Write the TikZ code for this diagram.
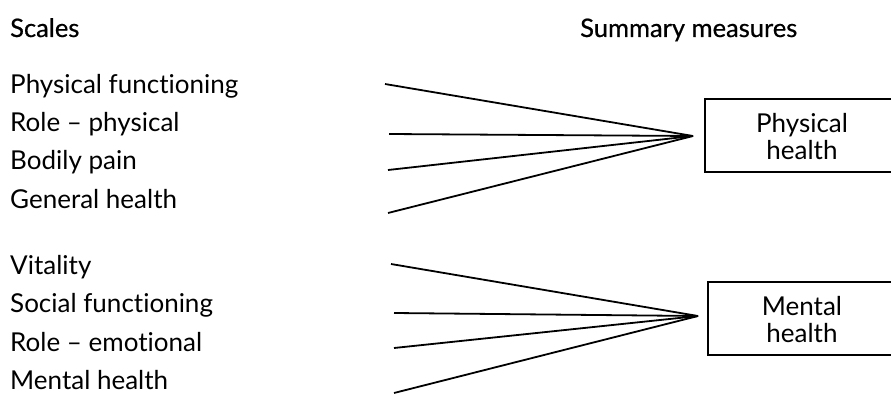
\documentclass[tikz,border=0pt]{standalone}
\usepackage{fontspec}
\setmainfont{Lato}[Ligatures={NoCommon,NoRare}]
\newfontfamily\headfont{Lato}[FakeBold=0.6]
\tikzset{
  scale label/.style={anchor=base west, inner sep=0pt, font=\fontsize{26}{28}\selectfont},
  head label/.style={anchor=base west, inner sep=0pt, font=\headfont\fontsize{25.5}{28}\selectfont},
  measure text/.style={inner sep=0pt, align=center, font=\fontsize{26}{27}\selectfont},
  measure box/.style={line width=1.6pt},
  link/.style={line width=1.8pt}
}
\begin{document}
\begin{tikzpicture}[x=1pt, y=-1pt]
  \useasboundingbox (0,0) rectangle (891,396);
  \clip (0,0) rectangle (891,396);

  % Headings
  \node[head label] (scales) at (10, 37) {Scales};
  \node[head label] (summary) at (580, 37) {Summary measures};

  % Scales
  \node[scale label] (pf) at (10, 93) {Physical functioning};
  \node[scale label] (rp) at (10, 131) {Role -- physical};
  \node[scale label] (bp) at (10, 169) {Bodily pain};
  \node[scale label] (gh) at (10, 208) {General health};
  \node[scale label] (vt) at (10, 274) {Vitality};
  \node[scale label] (sf) at (10, 312) {Social functioning};
  \node[scale label] (re) at (10, 351) {Role -- emotional};
  \node[scale label] (mh) at (10, 389) {Mental health};

  % Summary measures
  \node[measure text] (phys) at (802, 137) {Physical\\health};
  \node[measure text] (ment) at (802, 320) {Mental\\health};
  \draw[measure box] (705, 99) rectangle (905, 172);
  \draw[measure box] (708, 282) rectangle (905, 355);

  % Line ends
  \coordinate (pf end) at (385, 84);
  \coordinate (rp end) at (389, 134);
  \coordinate (bp end) at (388, 170);
  \coordinate (gh end) at (388, 213);
  \coordinate (phys in) at (693, 136);
  \coordinate (vt end) at (391, 264);
  \coordinate (sf end) at (394, 313);
  \coordinate (re end) at (394, 348);
  \coordinate (mh end) at (394, 393);
  \coordinate (ment in) at (698, 316);

  % Connectors
  \foreach \s in {pf, rp, bp, gh}
    \draw[link] (\s\space end) -- (phys in);
  \foreach \s in {vt, sf, re, mh}
    \draw[link] (\s\space end) -- (ment in);
\end{tikzpicture}
\end{document}
